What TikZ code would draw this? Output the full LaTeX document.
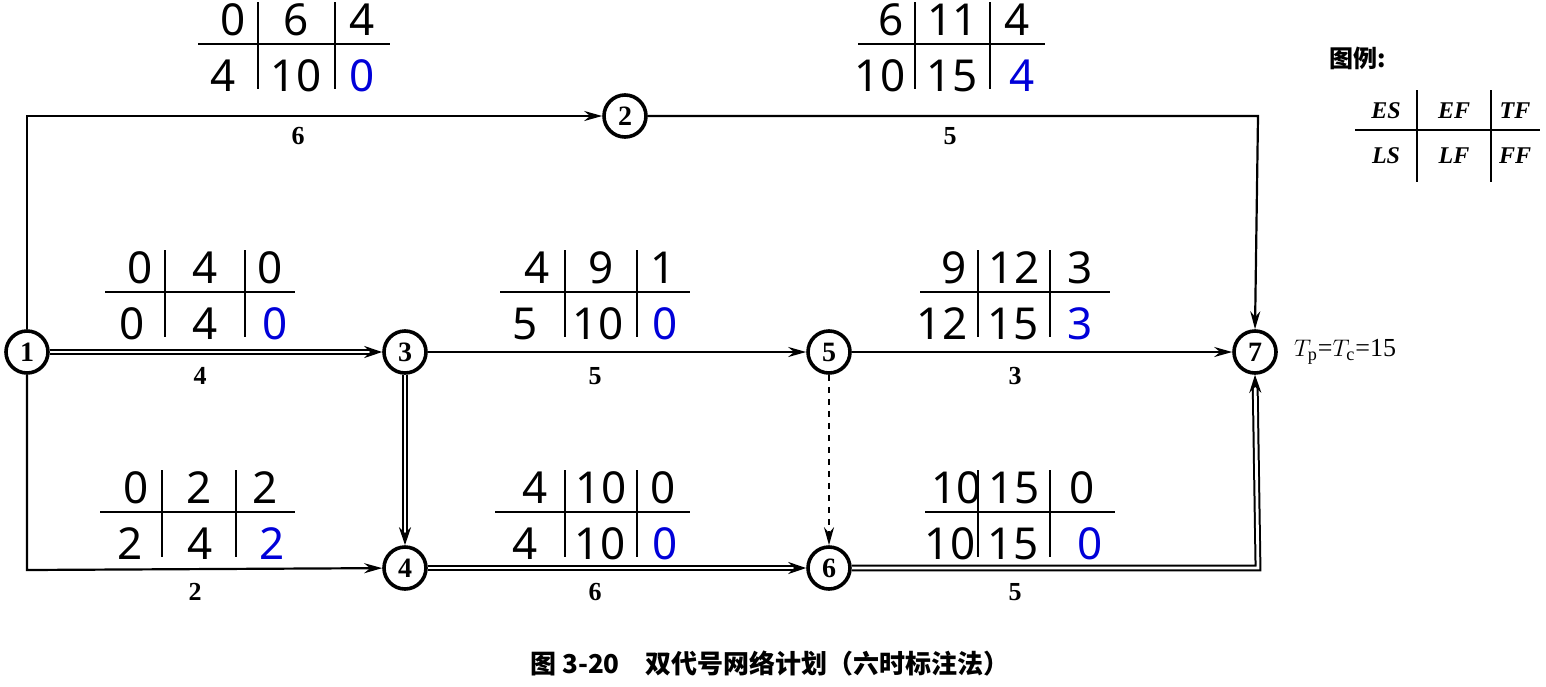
\documentclass[tikz,border=0pt]{standalone}
\usepackage{fontspec}
\setmainfont{Liberation Serif}
\newfontfamily\numf{Noto Sans}
\newfontfamily\cjk{Noto Sans CJK SC}
\usetikzlibrary{arrows.meta}
\begin{document}
\begin{tikzpicture}[x=0.5pt,y=-0.5pt,
 ev/.style={circle,draw,line width=1.8pt,minimum size=21pt,inner sep=0pt,font=\bfseries\fontsize{14}{14}\selectfont},
 act/.style={line width=1.1pt,-{Stealth[length=9pt,width=5pt]}},
 crit/.style={line width=1pt,double,double distance=1.4pt,-{Stealth[length=9pt,width=6pt]}},
 dur/.style={font=\bfseries\fontsize{13}{13}\selectfont},
 num/.style={font=\numf\fontsize{22}{22}\selectfont},
 bl/.style={num,text=blue!85!black},
 tl/.style={line width=1.4pt},
 lgd/.style={font=\bfseries\itshape\fontsize{12}{12}\selectfont}]
\useasboundingbox (0,0) rectangle (1546,686);
\node[ev] (n1) at (27,352) {1};
\node[ev] (n2) at (625,116) {2};
\node[ev] (n3) at (405,352) {3};
\node[ev] (n4) at (405,568) {4};
\node[ev] (n5) at (829,352) {5};
\node[ev] (n6) at (829,568) {6};
\node[ev] (n7) at (1255,352) {7};
\coordinate (c12) at (27,116);
\coordinate (c14) at (27,570);
\coordinate (c27) at (1258,116);
\coordinate (c67) at (1258,568);
\draw[act] (n1.north) -- (c12) -- (n2);
\draw[act] (n2) -- (c27) -- (n7.north);
\draw[act] (n1.south) -- (c14) -- (n4);
\draw[crit] (n1) -- (n3);
\draw[crit] (n3) -- (n4);
\draw[crit] (n4) -- (n6);
\draw[crit] (n6) -- (c67) -- (n7.south);
\draw[act] (n3) -- (n5);
\draw[act] (n5) -- (n7);
\draw[act,dashed] (n5) -- (n6);
\node[dur] (d1) at (298,136) {6};
\node[dur] (d2) at (950,136) {5};
\node[dur] (d3) at (200,376) {4};
\node[dur] (d4) at (595,376) {5};
\node[dur] (d5) at (1015,376) {3};
\node[dur] (d6) at (195,592) {2};
\node[dur] (d7) at (595,592) {6};
\node[dur] (d8) at (1015,592) {5};
\newcommand\tab[9]{%
 \draw[tl] (#1,#5) -- (#4,#5);
 \draw[tl] (#2,#5-42) -- (#2,#5+45);
 \draw[tl] (#3,#5-42) -- (#3,#5+45);
 \node[num] at ({(#1+#2)/2+5},#5-24) {#6};
 \node[num] at ({(#2+#3)/2},#5-24) {#7};
 \node[num] at ({(#3+#4)/2},#5-24) {#8};
 #9}
\tab{198}{258}{335}{390}{44}{0}{6}{4}{\node[num] at (223,76) {4}; \node[num] at (296,76) {10}; \node[bl] at (362,76) {0};}
\tab{858}{915}{990}{1045}{44}{6}{11}{4}{\node[num] at (880,76) {10}; \node[num] at (952,76) {15}; \node[bl] at (1022,76) {4};}
\tab{105}{165}{245}{295}{292}{0}{4}{0}{\node[num] at (132,324) {0}; \node[num] at (205,324) {4}; \node[bl] at (275,324) {0};}
\tab{500}{565}{637}{690}{292}{4}{9}{1}{\node[num] at (525,324) {5}; \node[num] at (598,324) {10}; \node[bl] at (665,324) {0};}
\tab{920}{978}{1050}{1110}{292}{9}{12}{3}{\node[num] at (942,324) {12}; \node[num] at (1013,324) {15}; \node[bl] at (1080,324) {3};}
\tab{100}{162}{236}{295}{512}{0}{2}{2}{\node[num] at (130,544) {2}; \node[num] at (200,544) {4}; \node[bl] at (272,544) {2};}
\tab{495}{565}{637}{690}{512}{4}{10}{0}{\node[num] at (525,544) {4}; \node[num] at (600,544) {10}; \node[bl] at (665,544) {0};}
\tab{925}{978}{1050}{1115}{512}{10}{15}{0}{\node[num] at (950,544) {10}; \node[num] at (1013,544) {15}; \node[bl] at (1090,544) {0};}
\node[anchor=west,font=\fontsize{13}{13}\selectfont] (tp) at (1287,352) {$T_{\mathrm p}$=$T_{\mathrm c}$=15};
\node[anchor=west,font=\cjk\bfseries\fontsize{12}{12}\selectfont] (lg) at (1322,58) {图例:};
\draw[tl] (1355,130) -- (1540,130);
\draw[tl] (1417,90) -- (1417,182);
\draw[tl] (1491,90) -- (1491,182);
\node[lgd] at (1386,111) {ES};
\node[lgd] at (1454,111) {EF};
\node[lgd] at (1515,111) {TF};
\node[lgd] at (1386,156) {LS};
\node[lgd] at (1454,156) {LF};
\node[lgd] at (1515,156) {FF};
\node[font=\cjk\bfseries\fontsize{13}{13}\selectfont] (cap) at (770,664) {图 3-20\quad 双代号网络计划（六时标注法）};
\end{tikzpicture}
\end{document}
